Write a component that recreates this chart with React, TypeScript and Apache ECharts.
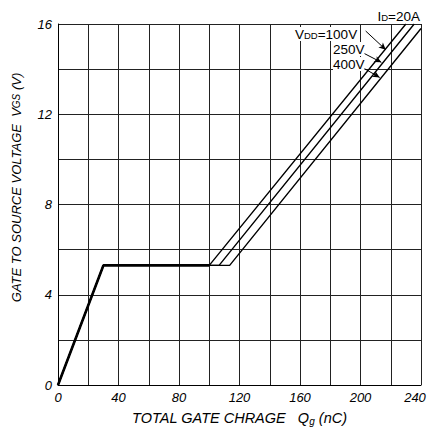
import React, { useEffect, useRef } from "react";
import * as echarts from "echarts";

const commonCurve: number[][] = [[0, 0], [30, 5.3], [100, 5.3]];
const vdd100: number[][] = [[0, 0], [30, 5.3], [100, 5.3], [230, 16]];
const vdd250: number[][] = [[0, 0], [30, 5.3], [106.5, 5.3], [235.5, 16]];
const vdd400: number[][] = [[0, 0], [30, 5.3], [113.5, 5.3], [240, 15.8]];
const arrow100: number[][] = [[203.4, 15.69], [216.7, 14.86]];
const arrow250: number[][] = [[196.8, 14.89], [213.8, 14.3]];
const arrow400: number[][] = [[197.5, 14.22], [212.7, 13.63]];
const xTicks = [0, 40, 80, 120, 160, 200, 240];
const yTicks = [0, 4, 8, 12, 16];

const FONT = "Liberation Sans, Arial, sans-serif";

export default function App() {
  const ref = useRef<HTMLDivElement>(null);
  useEffect(() => {
    if (!ref.current) return;
    const chart = echarts.init(ref.current, undefined, { renderer: "svg" });
    const lineSeries = (name: string, data: number[][], arrow: number[][]) => ({
      name,
      type: "line",
      data,
      symbol: "none",
      lineStyle: { color: "#000", width: 1.4 },
      silent: true,
      z: 3,
      markLine: {
        silent: true,
        symbol: ["none", "arrow"],
        symbolSize: [5, 7],
        label: { show: false },
        lineStyle: { color: "#000", width: 1, type: "solid" },
        data: [[{ coord: arrow[0] }, { coord: arrow[1] }]],
      },
    });
    chart.setOption({
      animation: false,
      grid: { left: 58, right: 8, top: 24, bottom: 46, containLabel: false, outerBoundsMode: "none" },
      xAxis: {
        type: "value",
        min: 0,
        max: 240,
        interval: 20,
        name: "TOTAL GATE CHRAGE   Q{s|g} (nC)",
        nameLocation: "middle",
        nameGap: 25,
        nameTextStyle: {
          fontFamily: FONT,
          fontSize: 14.5,
          fontStyle: "italic",
          color: "#000",
          rich: { s: { fontSize: 10, fontStyle: "italic", fontFamily: FONT, padding: [6, 0, 0, 0], color: "#000" } },
        },
        axisLine: { lineStyle: { color: "#000", width: 1 } },
        axisTick: { show: false },
        axisLabel: {
          color: "#000",
          fontFamily: FONT,
          fontStyle: "italic",
          fontSize: 13,
          margin: 6,
          formatter: (v: number) => {
            if (!xTicks.includes(v)) return "";
            if (v === 240) return "{m|" + v + "}";
            return String(v);
          },
          rich: { m: { fontFamily: FONT, fontStyle: "italic", fontSize: 13, color: "#000", padding: [0, 12, 0, 0] } },
        },
        splitLine: { show: true, lineStyle: { color: "#222", width: 1 } },
      },
      yAxis: {
        type: "value",
        min: 0,
        max: 16,
        interval: 2,
        name: "GATE TO SOURCE VOLTAGE  V{s|GS} (V)",
        nameLocation: "middle",
        nameGap: 35,
        nameTextStyle: {
          fontFamily: FONT,
          fontSize: 13,
          fontStyle: "italic",
          color: "#000",
          padding: [0, 0, 0, 34],
          rich: { s: { fontSize: 10, fontStyle: "italic", fontFamily: FONT, color: "#000" } },
        },
        axisLine: { lineStyle: { color: "#000", width: 1 } },
        axisTick: { show: false },
        axisLabel: {
          color: "#000",
          fontFamily: FONT,
          fontStyle: "italic",
          fontSize: 13,
          margin: 6,
          formatter: (v: number) => (yTicks.includes(v) ? String(v) : ""),
        },
        splitLine: { show: true, lineStyle: { color: "#222", width: 1 } },
      },
      series: [
        lineSeries("100V", vdd100, arrow100),
        lineSeries("250V", vdd250, arrow250),
        lineSeries("400V", vdd400, arrow400),
        {
          name: "common",
          type: "line",
          data: commonCurve,
          symbol: "none",
          lineStyle: { color: "#000", width: 2.6 },
          silent: true,
          z: 4,
        },
      ],
      graphic: [
        {
          type: "text",
          right: 9,
          top: 9,
          style: {
            text: "{b|I}{s|D}{b|=20A}",
            fill: "#000",
            rich: {
              b: { fontFamily: FONT, fontSize: 13.5, fill: "#000" },
              s: { fontFamily: FONT, fontSize: 9.5, fill: "#000", padding: [3, 0, 0, 0] },
            },
          },
        },
        {
          type: "text",
          left: 295,
          top: 27,
          z: 10,
          style: {
            text: "{b|V}{s|DD}{b|=100V}",
            backgroundColor: "#fff",
            rich: {
              b: { fontFamily: FONT, fontSize: 13.5, fill: "#000" },
              s: { fontFamily: FONT, fontSize: 9.5, fill: "#000", padding: [3, 0, 0, 0] },
            },
          },
        },
        {
          type: "text",
          left: 333,
          top: 42,
          z: 10,
          style: { text: "250V", fontFamily: FONT, fontSize: 13.5, fill: "#000", backgroundColor: "#fff" },
        },
        {
          type: "text",
          left: 333,
          top: 57,
          z: 10,
          style: { text: "400V", fontFamily: FONT, fontSize: 13.5, fill: "#000", backgroundColor: "#fff" },
        },
      ],
    });
    return () => chart.dispose();
  }, []);
  return <div ref={ref} style={{ position: "fixed", left: 0, top: 0, width: 429, height: 431, background: "#fff" }} />;
}
